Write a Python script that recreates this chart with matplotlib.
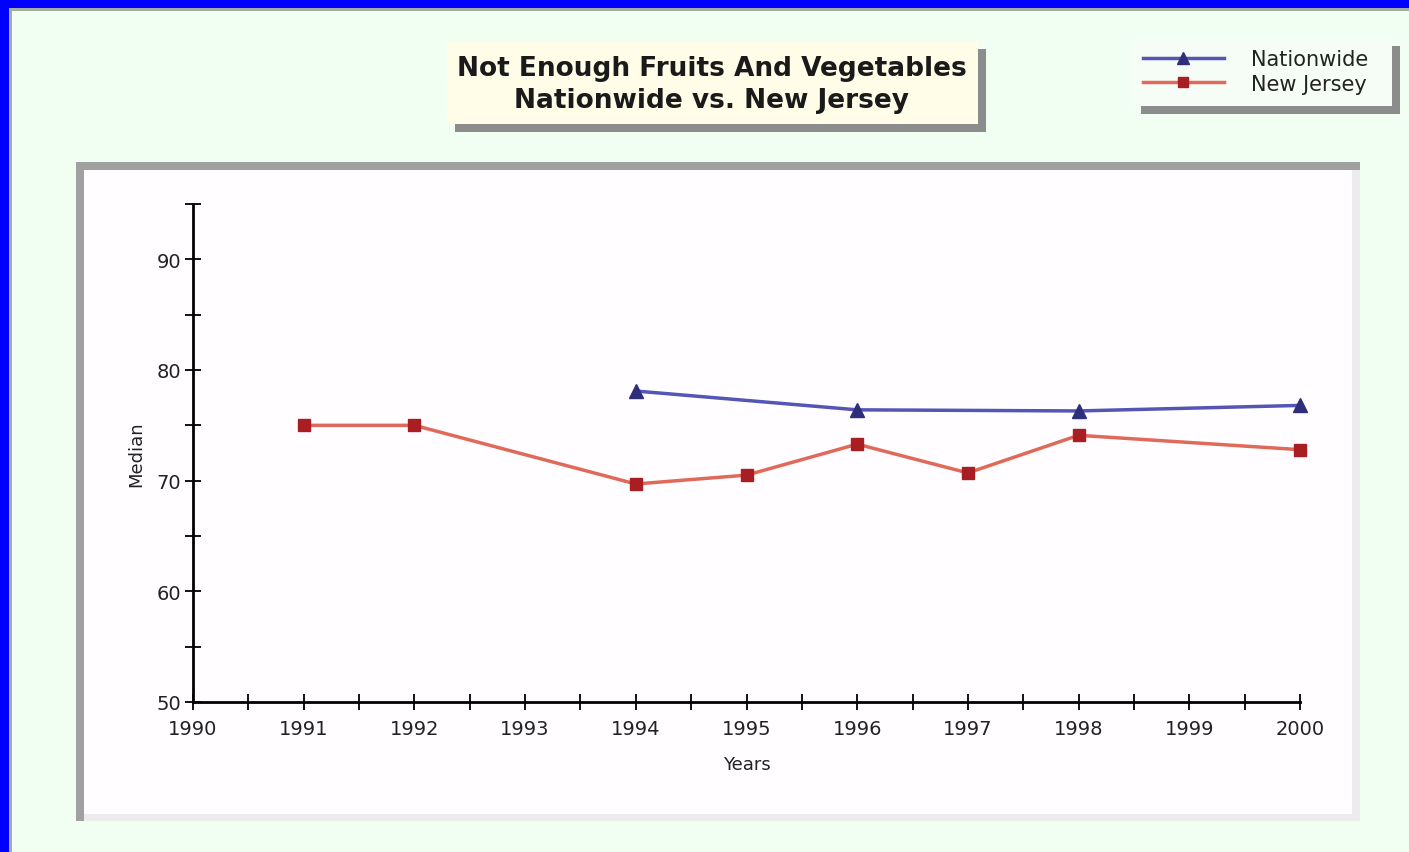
import matplotlib.pyplot as plt
from matplotlib.patches import Rectangle
from matplotlib.ticker import MultipleLocator

# survey data (median %)
nat_years = [1994, 1996, 1998, 2000]
nat_values = [78.1, 76.4, 76.3, 76.8]
nj_years = [1991, 1992, 1994, 1995, 1996, 1997, 1998, 2000]
nj_values = [75.0, 75.0, 69.7, 70.5, 73.3, 70.7, 74.1, 72.8]
series_names = ['Nationwide', 'New Jersey']
title_lines = ['Not Enough Fruits And Vegetables', 'Nationwide vs. New Jersey']

W, H = 1409, 853
fig = plt.figure(figsize=(W / 100, H / 100), dpi=100)
fig.patch.set_facecolor('#f0fff2')


def box(x0, y0, x1, y1, **kw):
    # rectangle given in pixel coords measured from the top-left corner
    r = Rectangle((x0 / W, 1 - y1 / H), (x1 - x0) / W, (y1 - y0) / H,
                  transform=fig.transFigure, linewidth=0, zorder=-1, **kw)
    fig.patches.append(r)
    return r


# outer blue frame with thin grey inner edge
box(0, 0, W, 9, color='#0000ff')
box(0, 0, 9, H, color='#0000ff')
box(9, 9, W, 12, color='#a5aca5')
box(9, 9, 12, H, color='#a5aca5')

# plot panel with bevelled border
box(76, 163, 1360, 822, color='#ececec')
box(76, 163, 1360, 171, color='#a0a0a0')
box(76, 163, 84, 822, color='#a0a0a0')
box(84, 171, 1352, 815, color='#fffdff')

# title box + shadow
box(455, 50, 986, 133, color='#8c8c8c')
box(447, 43, 978, 125, color='#fffde8')
fig.text(712 / W, 1 - 85 / H, '\n'.join(title_lines), ha='center', va='center',
         fontsize=19, fontweight='bold', color='#1a1a1a', linespacing=1.25,
         family='DejaVu Sans')

ax = fig.add_axes([193 / W, 1 - 703 / H, (1300 - 193) / W, (703 - 205) / H])
ax.set_facecolor('none')
ax.set_zorder(2)

l1, = ax.plot(nat_years, nat_values, color='#5555b5', lw=2.5,
              marker='^', ms=10, mfc='#2e2e7a', mec='#2e2e7a', zorder=3,
              clip_on=False)
l2, = ax.plot(nj_years, nj_values, color='#e06a5a', lw=2.5,
              marker='s', ms=9, mfc='#a81e22', mec='#a81e22', zorder=3,
              clip_on=False)

ax.set_xlim(1990, 2000)
ax.set_ylim(50, 95)
ax.xaxis.set_major_locator(MultipleLocator(1))
ax.xaxis.set_minor_locator(MultipleLocator(0.5))
ax.set_yticks([50, 60, 70, 80, 90])
ax.yaxis.set_minor_locator(MultipleLocator(5))
ax.tick_params(which='both', direction='inout', length=11, width=1.3,
               color='black', labelsize=14, labelcolor='#222222')
ax.tick_params(axis='x', pad=7)
ax.tick_params(axis='y', pad=3)
for s in ['top', 'right']:
    ax.spines[s].set_visible(False)
for s in ['left', 'bottom']:
    ax.spines[s].set_linewidth(2)
ax.set_xlabel('Years', fontsize=13, color='#222222', labelpad=12)
ax.set_ylabel('Median', fontsize=13, color='#222222', labelpad=8)

# legend box + shadow
box(1141, 47, 1400, 115, color='#8c8c8c')
box(1133, 40, 1392, 107, color='#f6fdf6')
fig.legend([l1, l2], series_names, loc='upper left',
           bbox_to_anchor=(1130 / W, 1 - 38 / H), frameon=False,
           fontsize=15, handlelength=3.9, handletextpad=1.3,
           labelspacing=0.2, borderpad=0.1, labelcolor='#222222',
           markerscale=0.85)

fig.savefig('out.png', dpi=100, facecolor=fig.get_facecolor())
